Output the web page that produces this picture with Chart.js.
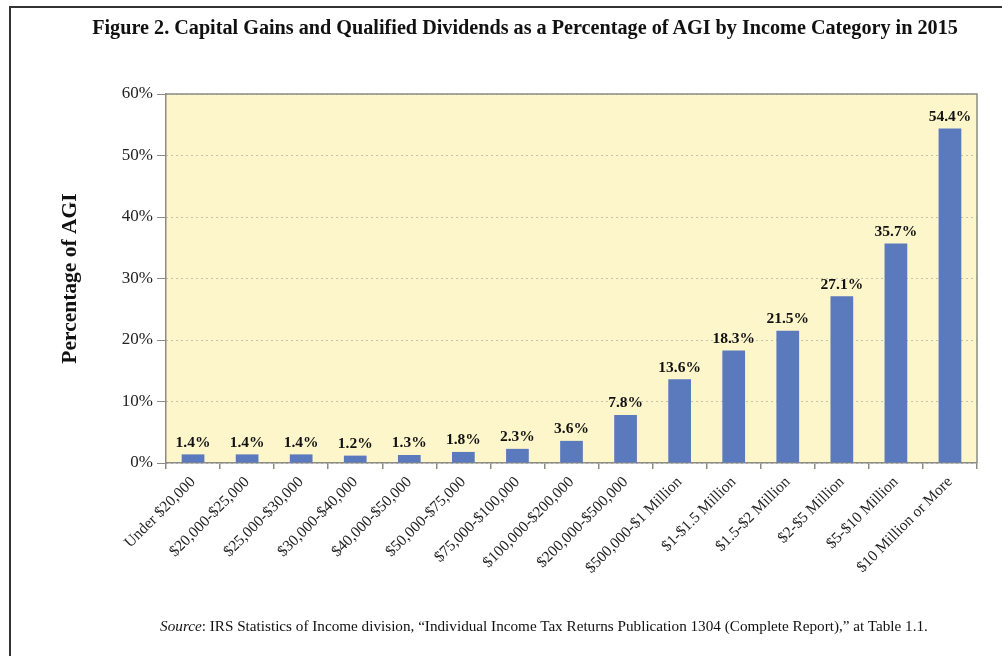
<!DOCTYPE html>
<html>
<head>
<meta charset="utf-8">
<script src="https://cdn.jsdelivr.net/npm/chart.js@4.4.1/dist/chart.umd.min.js"></script>
<style>
  html, body { margin: 0; padding: 0; background: #fff; }
  body { width: 1002px; height: 656px; position: relative; overflow: hidden; font-family: "Liberation Serif", "DejaVu Serif", serif; color: #111; }
  #frame { position: absolute; left: 9px; top: 6px; width: 1100px; height: 800px; border-left: 2px solid #333; border-top: 2px solid #333; }
  #title { position: absolute; left: 25px; width: 1000px; top: 16px; text-align: center; font-weight: bold; font-size: 20.2px; white-space: nowrap; }
  #source { position: absolute; left: 44px; width: 1000px; top: 617px; text-align: center; font-size: 15.2px; white-space: nowrap; }
  #wrap { position: absolute; left: 0; top: 0; width: 1002px; height: 656px; }
</style>
</head>
<body>
<div id="frame"></div>
<div id="wrap"><canvas id="chart"></canvas></div>
<div id="title">Figure 2. Capital Gains and Qualified Dividends as a Percentage of AGI by Income Category in 2015</div>
<div id="source"><i>Source</i>: IRS Statistics of Income division, “Individual Income Tax Returns Publication 1304 (Complete Report),” at Table 1.1.</div>
<script>
// Income categories
const categories = [
  "Under $20,000", "$20,000-$25,000", "$25,000-$30,000", "$30,000-$40,000",
  "$40,000-$50,000", "$50,000-$75,000", "$75,000-$100,000", "$100,000-$200,000",
  "$200,000-$500,000", "$500,000-$1 Million", "$1-$1.5 Million", "$1.5-$2 Million",
  "$2-$5 Million", "$5-$10 Million", "$10 Million or More"
];

// Capital gains + qualified dividends as % of AGI
const shareOfAgi = [1.4, 1.4, 1.4, 1.2, 1.3, 1.8, 2.3, 3.6, 7.8, 13.6, 18.3, 21.5, 27.1, 35.7, 54.4];

const yTicks = [0, 10, 20, 30, 40, 50, 60];

const serif = "'Liberation Serif', 'DejaVu Serif', serif";

// Yellow plot background + frame on top/right
const plotBg = {
  id: 'plotBg',
  beforeDraw(chart) {
    const { ctx, chartArea: a } = chart;
    ctx.save();
    ctx.fillStyle = '#FCF6CA';
    ctx.fillRect(a.left, a.top, a.right - a.left, a.bottom - a.top);
    ctx.restore();
  },
  afterDraw(chart) {
    const { ctx, chartArea: a } = chart;
    ctx.save();
    ctx.strokeStyle = '#8c8c84';
    ctx.lineWidth = 1.5;
    ctx.beginPath();
    ctx.moveTo(a.left, a.top);
    ctx.lineTo(a.right, a.top);
    ctx.lineTo(a.right, a.bottom);
    ctx.stroke();
    ctx.restore();
  }
};

// Value labels above bars
const barLabels = {
  id: 'barLabels',
  afterDatasetsDraw(chart) {
    const { ctx } = chart;
    const meta = chart.getDatasetMeta(0);
    ctx.save();
    ctx.font = "bold 15.5px " + serif;
    ctx.fillStyle = '#111';
    ctx.textAlign = 'center';
    ctx.textBaseline = 'bottom';
    meta.data.forEach((bar, i) => {
      ctx.fillText(shareOfAgi[i].toFixed(1) + '%', bar.x, bar.y - 4);
    });
    ctx.restore();
  }
};

new Chart(document.getElementById('chart'), {
  type: 'bar',
  data: {
    labels: categories,
    datasets: [{
      data: shareOfAgi,
      backgroundColor: '#5B79BD',
      borderWidth: 0,
      categoryPercentage: 1,
      barPercentage: 0.42
    }]
  },
  options: {
    responsive: true,
    maintainAspectRatio: false,
    animation: false,
    layout: { padding: { top: 94, right: 25, left: 0, bottom: 0 } },
    plugins: { legend: { display: false }, tooltip: { enabled: false }, title: { display: false } },
    scales: {
      x: {
        grid: { offset: true, drawOnChartArea: false, color: '#8c8c84', tickLength: 6, lineWidth: 1.5 },
        border: { color: '#8c8c84', width: 1.5 },
        ticks: {
          color: '#222', autoSkip: false, maxRotation: 45, minRotation: 45, padding: 4,
          font: { family: serif, size: 15.5 }
        },
        afterFit(scale) { scale.height = 193; }
      },
      y: {
        min: 0, max: 60,
        afterBuildTicks(scale) { scale.ticks = yTicks.map(v => ({ value: v })); },
        grid: {
          color: '#8f8f86', lineWidth: 1, tickLength: 9,
          tickBorderDash: [], tickColor: '#8c8c84'
        },
        border: { color: '#8c8c84', width: 1.5, dash: [1, 4] },
        ticks: {
          color: '#222', padding: 4,
          font: { family: serif, size: 17 },
          callback: v => v + '%'
        },
        title: {
          display: true, text: 'Percentage of AGI', color: '#111',
          font: { family: serif, size: 21.5, weight: 'bold' },
          padding: { top: 58, bottom: 0 }
        },
        afterFit(scale) { scale.width = 166; }
      }
    }
  },
  plugins: [plotBg, barLabels]
});
</script>
</body>
</html>
